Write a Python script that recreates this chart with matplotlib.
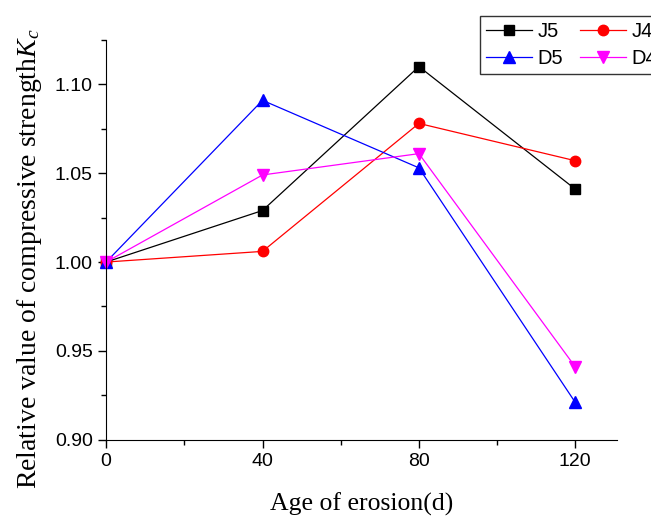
import matplotlib.pyplot as plt
from matplotlib.ticker import MultipleLocator
from matplotlib import rcParams

rcParams['font.family'] = 'sans-serif'
rcParams['font.sans-serif'] = ['Liberation Sans']
rcParams['mathtext.fontset'] = 'custom'
rcParams['mathtext.it'] = 'Liberation Serif:italic'
rcParams['mathtext.rm'] = 'Liberation Serif'

age = [0, 40, 80, 120]
j5 = [1.000, 1.029, 1.110, 1.041]
j4 = [1.000, 1.006, 1.078, 1.057]
d5 = [1.000, 1.091, 1.053, 0.921]
d4 = [1.000, 1.049, 1.061, 0.941]

fig = plt.figure(figsize=(6.51, 5.18), dpi=100)
ax = fig.add_axes([0.163, 0.151, 0.785, 0.772])

l_j5, = ax.plot(age, j5, color='black', marker='s', ms=7, lw=0.9, label='J5', clip_on=False)
l_j4, = ax.plot(age, j4, color='red', marker='o', ms=7.5, lw=0.9, label='J4', clip_on=False)
l_d5, = ax.plot(age, d5, color='blue', marker='^', ms=8.5, lw=0.9, label='D5', clip_on=False)
l_d4, = ax.plot(age, d4, color='magenta', marker='v', ms=8.5, lw=0.9, label='D4', clip_on=False)

ax.set_xlim(0, 130.7)
ax.set_ylim(0.90, 1.125)
ax.set_xticks(age)
ax.set_yticks([0.90, 0.95, 1.00, 1.05, 1.10])
ax.xaxis.set_minor_locator(MultipleLocator(20))
ax.yaxis.set_minor_locator(MultipleLocator(0.025))
ax.tick_params(which='major', direction='out', length=6, width=1, labelsize=14)
ax.tick_params(which='minor', direction='out', length=3.5, width=1)
ax.spines['top'].set_visible(False)
ax.spines['right'].set_visible(False)

ax.set_xlabel('Age of erosion(d)', family='Liberation Serif', fontsize=18.5, labelpad=16)
ax.set_ylabel('Relative value of compressive strength$K_c$', family='Liberation Serif',
              fontsize=20)
ax.yaxis.set_label_coords(-0.121, 0.4525)

# row-wise legend: J5 J4 / D5 D4
leg = fig.legend([l_j5, l_d5, l_j4, l_d4], ['J5', 'D5', 'J4', 'D4'],
                 loc='upper left', bbox_to_anchor=(480 / 651, 1 - 16 / 518), ncol=2,
                 fontsize=14.5, frameon=True, fancybox=False, edgecolor='black',
                 handlelength=2.3, columnspacing=0.85, handletextpad=0.25,
                 borderpad=0.3, labelspacing=0.4, borderaxespad=0)
leg.get_frame().set_linewidth(1)

fig.savefig('out.png', dpi=100)
